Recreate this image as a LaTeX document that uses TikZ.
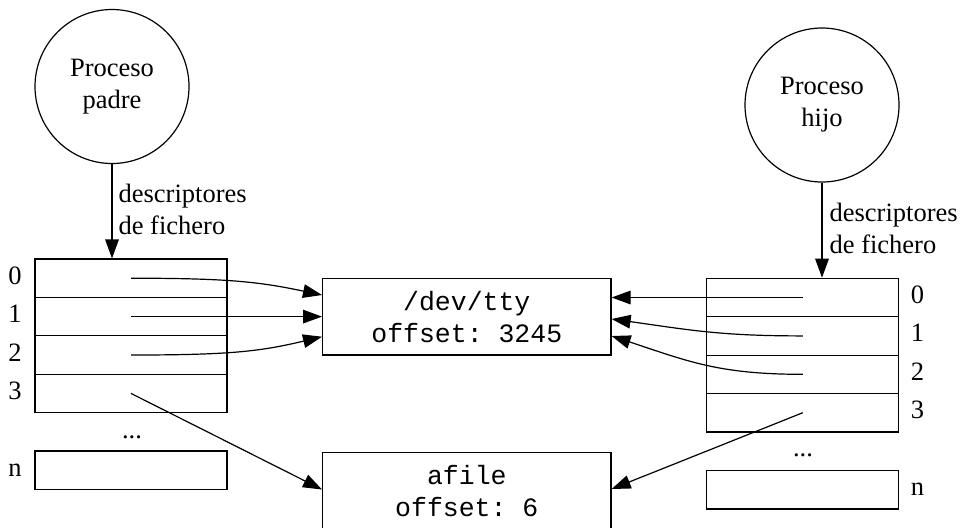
\documentclass[tikz,border=0pt]{standalone}
\usepackage{fontspec}
\setmainfont{Liberation Serif}
\setmonofont{Liberation Mono}
\usetikzlibrary{arrows.meta,calc}
\begin{document}
\begin{tikzpicture}[x=0.5pt,y=-0.5pt,
  font=\fontsize{13.25}{16}\selectfont,
  line width=0.6pt,
  cell/.style={draw, minimum width=96pt, minimum height=19.2pt, inner sep=0pt},
  proc/.style={draw, circle, minimum size=77pt, inner sep=0pt, align=center},
  filebox/.style={draw, minimum width=144.2pt, minimum height=38.35pt, inner sep=0pt, align=center, font=\fontsize{13.25}{16}\selectfont\ttfamily},
  lbl/.style={inner sep=0pt, anchor=base},
  conn/.style={-{Triangle[length=9.5pt,width=6.8pt]}}
]
\useasboundingbox (0,0) rectangle (961,527);

% processes
\node[proc] (Lp) at (112,86.5) {Proceso\\padre};
\node[proc] (Rp) at (822,105) {Proceso\\hijo};

% left table
\node[cell] (L0) at (131,278.2) {};
\node[cell] (L1) at (131,316.6) {};
\node[cell] (L2) at (131,355.0) {};
\node[cell] (L3) at (131,393.4) {};
\node[cell] (Ln) at (131,470.2) {};
\node[lbl] (l0) at (15,284.2) {0};
\node[lbl] (l1) at (15,322.6) {1};
\node[lbl] (l2) at (15,361.0) {2};
\node[lbl] (l3) at (15,399.4) {3};
\node[lbl] (ln) at (15,476.2) {n};
\node[lbl] (ldots) at (132,438) {...};

% right table
\node[cell] (R0) at (802.8,297.5) {};
\node[cell] (R1) at (802.8,335.9) {};
\node[cell] (R2) at (802.8,374.3) {};
\node[cell] (R3) at (802.8,412.7) {};
\node[cell] (Rn) at (802.8,489.8) {};
\node[lbl] (r0) at (917.5,303.5) {0};
\node[lbl] (r1) at (917.5,341.9) {1};
\node[lbl] (r2) at (917.5,380.3) {2};
\node[lbl] (r3) at (917.5,418.7) {3};
\node[lbl] (rn) at (917.5,495.8) {n};
\node[lbl] (rdots) at (803,456) {...};

% files
\node[filebox] (tty) at (466.8,316.7) {/dev/tty\\offset: 3245};
\node[filebox] (afile) at (466.8,491) {afile\\offset: 6};

% process -> table
\draw[conn] (Lp.south) -- (Lp.south |- L0.north);
\draw[conn] (Rp.south) -- (Rp.south |- R0.north);
\node[anchor=west, align=left, inner sep=0pt] (ldesc) at (118,209) {descriptores\\de fichero};
\node[anchor=west, align=left, inner sep=0pt] (rdesc) at (829,228) {descriptores\\de fichero};

% left connectors
\coordinate (tL0) at ($(tty.west)+(0,-21.7)$);
\coordinate (tL2) at ($(tty.west)+(0,20)$);
\coordinate (aL) at ($(afile.west)+(0,-1.5)$);
\coordinate (aR) at ($(afile.east)+(0,-2)$);
\draw[conn] (L0.center) .. controls (230,278.2) and (260,282) .. (tL0);
\draw[conn] (L1.center) -- (L1.center -| tty.west);
\draw[conn] (L2.center) .. controls (230,355) and (260,351.5) .. (tL2);
\draw[conn] (L3.center) -- (aL);

% right connectors
\coordinate (tR1) at ($(tty.east)+(0,2.3)$);
\coordinate (tR2) at ($(tty.east)+(0,19.3)$);
\draw[conn] (R0.center) -- (R0.center -| tty.east);
\draw[conn] (R1.center) .. controls (720,335.9) and (690,330) .. (tR1);
\draw[conn] (R2.center) .. controls (720,374.3) and (690,362) .. (tR2);
\draw[conn] (R3.center) -- (aR);
\end{tikzpicture}
\end{document}
